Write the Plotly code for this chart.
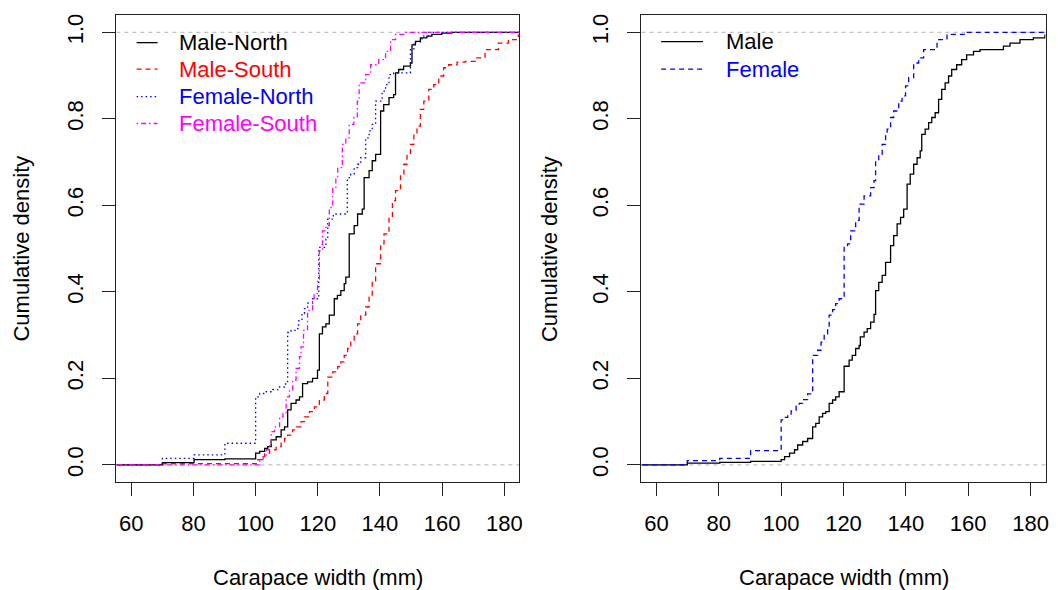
import plotly.graph_objects as go

# ---- data (ECDF step points: width mm, cumulative density) ----
mn_x = [50, 70, 80.2, 90.1, 100, 101.3, 102.9, 103.9, 105.0, 106.6,
        108.2, 109.3, 110.3, 111.4, 113.0, 114.1, 115.1, 116.7, 118.3, 119.9,
        120.5, 121.5, 122.6, 123.7, 125.3, 126.3, 127.4, 128.5, 129.0, 130.1,
        131.7, 132.8, 134.3, 134.9, 136.5, 137.5, 138.6, 140.2, 141.2, 142.9,
        144.4, 145.0, 146.0, 147.6, 149.8, 150.3, 151.4, 153.0, 155.1, 156.7,
        159.9, 163.1, 190]
mn_y = [0, 0.005, 0.012, 0.014, 0.027, 0.031, 0.038, 0.042, 0.058, 0.065,
        0.081, 0.088, 0.127, 0.142, 0.15, 0.157, 0.188, 0.192, 0.2, 0.219,
        0.303, 0.319, 0.326, 0.346, 0.384, 0.392, 0.403, 0.419, 0.434, 0.534,
        0.553, 0.58, 0.591, 0.664, 0.68, 0.703, 0.718, 0.818, 0.833, 0.849,
        0.856, 0.906, 0.914, 0.922, 0.929, 0.971, 0.979, 0.987, 0.991, 0.995,
        0.998, 1.0, 1.0]

ms_x = [50, 70, 100.7, 101.8, 102.9, 104.5, 106.6, 108.2, 109.3, 110.3,
        111.9, 113.0, 114.6, 115.7, 117.3, 118.9, 120.5, 122.1, 123.2, 124.8,
        126.4, 127.4, 128.5, 129.6, 130.6, 131.7, 132.8, 133.8, 135.4, 136.5,
        137.5, 138.6, 140.2, 141.3, 142.9, 144.0, 145.0, 146.6, 147.7, 148.7,
        149.8, 150.9, 151.9, 153.0, 154.1, 155.7, 157.3, 158.9, 160.5, 162.1,
        164.8, 167.4, 170.6, 173.8, 178.1, 181.3, 184.5]
ms_y = [0, 0.003, 0.012, 0.019, 0.027, 0.035, 0.042, 0.05, 0.061, 0.069,
        0.081, 0.088, 0.1, 0.111, 0.123, 0.134, 0.15, 0.165, 0.203, 0.215,
        0.227, 0.238, 0.253, 0.269, 0.284, 0.303, 0.326, 0.346, 0.365, 0.388,
        0.425, 0.465, 0.511, 0.534, 0.572, 0.611, 0.634, 0.672, 0.695, 0.718,
        0.741, 0.764, 0.783, 0.822, 0.841, 0.868, 0.879, 0.899, 0.918, 0.925,
        0.931, 0.933, 0.941, 0.96, 0.975, 0.983, 0.995]

fn_x = [50, 70, 80.2, 90.1, 100, 101.3, 103.4, 105.5, 107.7, 109.3,
        110.3, 111.4, 113.0, 113.8, 114.9, 115.7, 116.7, 118.3, 119.9, 120.3,
        122.6, 123.2, 125.0, 129.5, 130.6, 131.7, 132.8, 133.8, 135.4, 136.5,
        137.5, 138.6, 140.7, 141.8, 142.9, 144.4, 149.8, 150.9, 153.5, 155.6,
        190]
fn_y = [0, 0.015, 0.023, 0.05, 0.157, 0.165, 0.169, 0.174, 0.18, 0.187,
        0.306, 0.311, 0.315, 0.333, 0.35, 0.361, 0.374, 0.384, 0.388, 0.503,
        0.522, 0.568, 0.58, 0.664, 0.672, 0.687, 0.695, 0.71, 0.756, 0.772,
        0.787, 0.841, 0.864, 0.879, 0.902, 0.906, 0.96, 0.978, 0.991, 1.0,
        1.0]

fs_x = [50, 100.2, 101.3, 102.4, 103.4, 104.5, 105.0, 106.1, 107.7, 108.8,
        109.8, 110.9, 111.9, 113.0, 114.1, 114.6, 115.4, 116.7, 118.3, 118.8,
        119.9, 120.5, 121.5, 122.6, 123.7, 124.8, 125.8, 126.4, 127.9, 129.0,
        130.1, 131.6, 132.7, 133.3, 135.4, 137.0, 139.6, 141.8, 143.4, 145.0,
        148.2, 190]
fs_y = [0, 0, 0.012, 0.019, 0.035, 0.05, 0.077, 0.088, 0.111, 0.119,
        0.157, 0.173, 0.196, 0.223, 0.25, 0.273, 0.311, 0.357, 0.38, 0.396,
        0.426, 0.495, 0.541, 0.553, 0.595, 0.641, 0.664, 0.687, 0.741, 0.756,
        0.787, 0.803, 0.841, 0.883, 0.902, 0.925, 0.937, 0.956, 0.983, 0.995,
        1.0, 1.0]

male_x = [50, 69.9, 80.3, 90.2, 100, 101.1, 102.7, 104.3, 105.3, 106.9,
          108.5, 110.1, 111.1, 112.2, 113.3, 114.3, 115.4, 116.5, 117.5, 118.6,
          120.2, 121.8, 122.8, 123.9, 125.0, 125.4, 126.6, 127.6, 128.7, 129.8,
          130.3, 131.3, 132.4, 133.5, 135.1, 136.1, 137.2, 138.3, 139.3, 140.4,
          141.4, 142.5, 143.6, 144.6, 145.1, 146.2, 147.3, 148.3, 149.4, 150.5,
          151.5, 152.6, 153.7, 154.7, 156.3, 157.9, 159.5, 161.7, 163.8, 171.3,
          173.4, 176.6, 180.9, 184.6]
male_y = [0, 0.004, 0.006, 0.008, 0.012, 0.019, 0.027, 0.035, 0.046, 0.054,
          0.061, 0.088, 0.096, 0.111, 0.119, 0.123, 0.142, 0.15, 0.157, 0.169,
          0.228, 0.242, 0.253, 0.269, 0.276, 0.296, 0.307, 0.315, 0.33, 0.348,
          0.403, 0.422, 0.438, 0.468, 0.507, 0.53, 0.557, 0.572, 0.591, 0.649,
          0.672, 0.695, 0.71, 0.726, 0.764, 0.776, 0.791, 0.803, 0.814, 0.845,
          0.868, 0.883, 0.899, 0.914, 0.925, 0.937, 0.948, 0.956, 0.96, 0.968,
          0.975, 0.983, 0.987, 0.995]

female_x = [50, 69.9, 80.3, 90.2, 100, 101.1, 102.1, 103.2, 104.8, 105.8,
            106.9, 108.5, 110.1, 111.7, 112.8, 113.8, 114.9, 115.4, 116.5, 117.5,
            118.6, 120.2, 121.3, 122.3, 123.9, 125.0, 126.6, 128.7, 129.8, 130.3,
            131.3, 132.4, 133.5, 134.0, 135.1, 136.1, 137.7, 138.8, 139.9, 140.9,
            142.5, 144.1, 145.7, 150.0, 153.2, 159.6, 190]
female_y = [0, 0.01, 0.015, 0.033, 0.104, 0.11, 0.115, 0.125, 0.136, 0.142,
            0.151, 0.164, 0.253, 0.265, 0.284, 0.303, 0.315, 0.346, 0.359, 0.373,
            0.384, 0.503, 0.511, 0.541, 0.565, 0.603, 0.622, 0.641, 0.657, 0.703,
            0.718, 0.741, 0.764, 0.776, 0.803, 0.818, 0.841, 0.853, 0.876, 0.895,
            0.929, 0.941, 0.96, 0.983, 0.995, 1.0, 1.0]

x_ticks = [60, 80, 100, 120, 140, 160, 180]
y_ticks = [0.0, 0.2, 0.4, 0.6, 0.8, 1.0]
y_ticktext = ["0.0", "0.2", "0.4", "0.6", "0.8", "1.0"]

# page body has an 8px margin, so the figure is drawn 8px in from the window corner
OFF = 8
W, H = 1058 - OFF, 590 - OFF
FONT = "Liberation Sans, Arial, sans-serif"
FS = 22

DASH = "5px,4px"
DOT = "1.5px,3px"
DOTDASH = "1.5px,3px,5px,3px"

left_series = [
    ("Male-North", mn_x, mn_y, "black", "solid"),
    ("Male-South", ms_x, ms_y, "red", DASH),
    ("Female-North", fn_x, fn_y, "blue", DOT),
    ("Female-South", fs_x, fs_y, "magenta", DOTDASH),
]
right_series = [
    ("Male", male_x, male_y, "black", "solid"),
    ("Female", female_x, female_y, "blue", DASH),
]


def px(x):
    # window pixel -> paper fraction
    return (x - OFF) / W


def py(y):
    return 1 - (y - OFF) / H


fig = go.Figure()

for name, xs, ys, col, dash in left_series:
    fig.add_trace(go.Scatter(x=xs, y=ys, mode="lines", line_shape="hv", name=name,
                             line=dict(color=col, width=1.3, dash=dash),
                             xaxis="x", yaxis="y", showlegend=False))
for name, xs, ys, col, dash in right_series:
    fig.add_trace(go.Scatter(x=xs, y=ys, mode="lines", line_shape="hv", name=name,
                             line=dict(color=col, width=1.3, dash=dash),
                             xaxis="x2", yaxis="y2", showlegend=False))

axis_common = dict(
    showline=True, mirror=True, linecolor="#222", linewidth=1,
    showgrid=False, zeroline=False,
    ticks="outside", ticklen=13, tickwidth=1, tickcolor="#222",
    tickfont=dict(family=FONT, size=FS, color="black"),
)
x_common = dict(axis_common, range=[55.2, 184.8], tickvals=x_ticks, ticklabelstandoff=8)
y_common = dict(axis_common, range=[-0.04, 1.04], tickvals=y_ticks, ticktext=y_ticktext,
                tickangle=-90, ticklabelstandoff=11)

ydom = [py(482), py(14)]
fig.update_layout(
    width=W, height=H,
    margin=dict(l=0, r=0, t=0, b=0),
    paper_bgcolor="white", plot_bgcolor="white",
    showlegend=False,
    xaxis=dict(x_common, domain=[px(116.7), px(520.7)], anchor="y"),
    yaxis=dict(y_common, domain=ydom, anchor="x"),
    xaxis2=dict(x_common, domain=[px(643.3), px(1048.5)], anchor="y2"),
    yaxis2=dict(y_common, domain=ydom, anchor="x2"),
)

# grey reference lines at 0 and 1
for xr, yr in [("x domain", "y"), ("x2 domain", "y2")]:
    for h in (0, 1):
        fig.add_shape(type="line", xref=xr, yref=yr, x0=0, x1=1, y0=h, y1=h,
                      line=dict(color="#b3b3b3", width=1, dash="4px,4px"), layer="below")

# axis titles
for cx, cyx in [(318.7, 22), (845.9, 551)]:
    fig.add_annotation(text="Carapace width (mm)", x=px(cx), y=py(577), xref="paper", yref="paper",
                       showarrow=False, xanchor="center", yanchor="middle",
                       font=dict(family=FONT, size=FS, color="black"))
    fig.add_annotation(text="Cumulative density", x=px(cyx), y=py(248), xref="paper", yref="paper",
                       showarrow=False, xanchor="center", yanchor="middle", textangle=-90,
                       font=dict(family=FONT, size=FS, color="black"))

# legends
legend_rows_left = [41.7, 68.3, 95.7, 122.7]
for (name, _, _, col, dash), ry in zip(left_series, legend_rows_left):
    fig.add_shape(type="line", xref="paper", yref="paper", x0=px(137), x1=px(158),
                  y0=py(ry), y1=py(ry), line=dict(color=col, width=1.3, dash=dash))
    fig.add_annotation(text=name, x=px(177), y=py(ry), xref="paper", yref="paper",
                       showarrow=False, xanchor="left", yanchor="middle",
                       font=dict(family=FONT, size=FS, color=col))

legend_rows_right = [40.7, 68.3]
for (name, _, _, col, dash), ry in zip(right_series, legend_rows_right):
    fig.add_shape(type="line", xref="paper", yref="paper", x0=px(663), x1=px(705),
                  y0=py(ry), y1=py(ry), line=dict(color=col, width=1.3, dash=dash))
    fig.add_annotation(text=name, x=px(726), y=py(ry), xref="paper", yref="paper",
                       showarrow=False, xanchor="left", yanchor="middle",
                       font=dict(family=FONT, size=FS, color=col))

fig.write_html("out.html")
